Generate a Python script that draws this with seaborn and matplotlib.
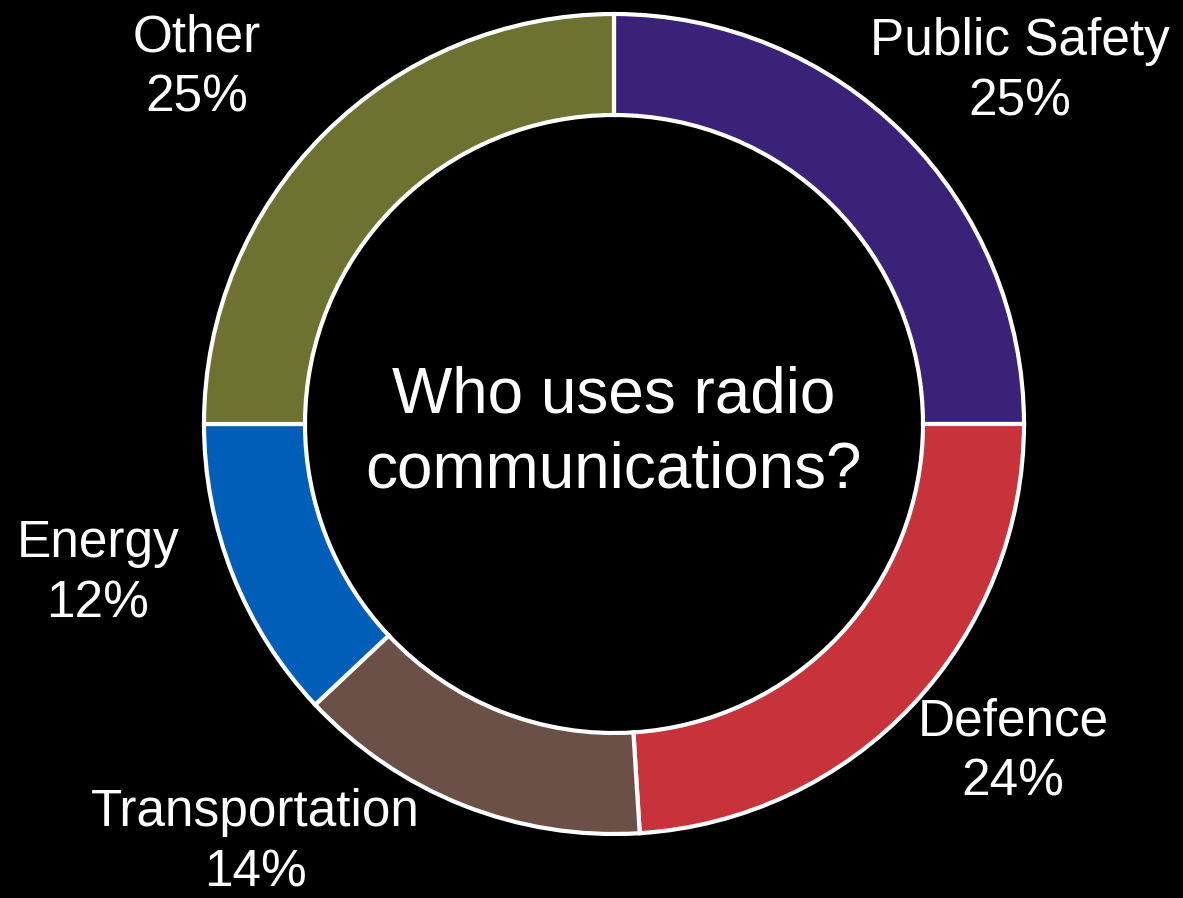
import matplotlib
matplotlib.use('Agg')
import matplotlib.pyplot as plt
import seaborn as sns

# Data.
sectors = ['Public Safety', 'Defence', 'Transportation', 'Energy', 'Other']
shares = [25, 24, 14, 12, 25]
colors = ['#3A2279', '#C8323A', '#6B5048', '#005EB8', '#6E7230']

# Label anchors (pixels from top-left) for each sector.
label_xy = [(1020, 72), (1013, 752), (255, 843), (98, 574), (197, 68)]

sns.set_theme(style='dark', rc={'figure.facecolor': 'black', 'axes.facecolor': 'black'})
plt.rcParams['font.family'] = ['Liberation Sans', 'DejaVu Sans']

W, H = 1183, 898
fig = plt.figure(figsize=(W / 100, H / 100), dpi=100)
ax = fig.add_axes([0, 0, 1, 1])

ax.pie(shares, colors=colors, startangle=90, counterclock=False,
       center=(614, H - 424), radius=410, frame=True,
       wedgeprops=dict(width=101, edgecolor='white', linewidth=3))
ax.set_xlim(0, W)
ax.set_ylim(0, H)
ax.set_aspect('equal')
ax.axis('off')

for name, pct, (x, y) in zip(sectors, shares, label_xy):
    fig.text(x / W, 1 - y / H, f'{name}\n{pct}%', color='white', fontsize=37,
             ha='center', va='center', linespacing=1.3)

fig.text(614 / W, 1 - 433 / H, 'Who uses radio\ncommunications?', color='white',
         fontsize=46, ha='center', va='center', linespacing=1.3)

fig.savefig('out.png', dpi=100, facecolor='black')
